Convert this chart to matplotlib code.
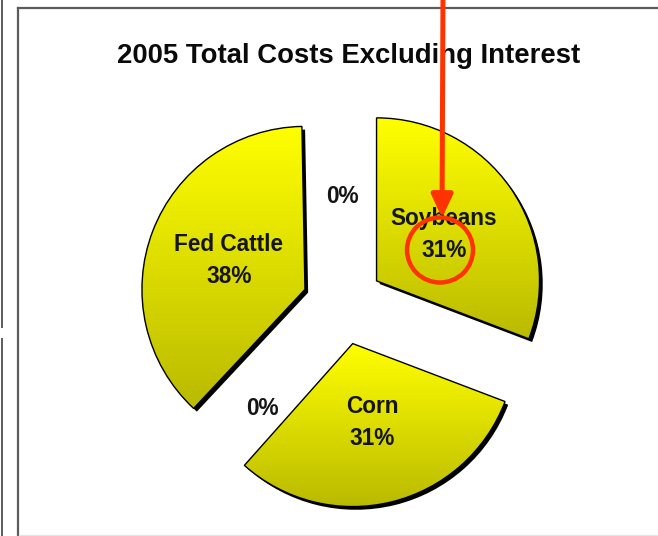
import numpy as np
import matplotlib
matplotlib.use('Agg')
from matplotlib import pyplot as plt
from matplotlib import patheffects as pe
from matplotlib.patches import Wedge, Ellipse
from matplotlib.lines import Line2D

# data
title = '2005 Total Costs Excluding Interest'
categories = ['Soybeans', 'Corn', '', 'Fed Cattle', '']
values = [31, 31, 0.4, 38, 0.3]

plt.rcParams['font.family'] = ['Liberation Sans', 'DejaVu Sans']

W, H = 658, 536
R = 163.0           # pie radius in pixels
cx, cy = 343, 304   # pie centre in pixels (from top)

fig = plt.figure(figsize=(W / 100, H / 100), dpi=100)
fig.patch.set_facecolor('white')

ax = fig.add_axes([0, 0, 1, 1])
wedges, _ = ax.pie(values, radius=1, startangle=90, counterclock=False,
                   explode=[0.25] * len(values),
                   wedgeprops=dict(edgecolor='none', facecolor='#ffff00'))
ax.set_aspect('auto')
ax.axis('off')

top = np.array([255, 255, 0]) / 255
bottom = np.array([186, 186, 0]) / 255
grad = np.linspace(0, 1, 256)[:, None, None]
grad_img = top * (1 - grad) + bottom * grad

total = sum(values)
pct = [f'{round(v / total * 100):.0f}%' for v in values]
label_dist = [0.5, 0.5, 0.56, 0.5, 0.41]
label_turn = [0, 0, 7, 0, 0]

for w, name, p, d, t in zip(wedges, categories, pct, label_dist, label_turn):
    th = np.deg2rad((w.theta1 + w.theta2) / 2 + t)
    x0, y0 = w.center
    if name:
        w.set_path_effects([pe.SimplePatchShadow(offset=(2.3, -2.3),
                                                 shadow_rgbFace='black', alpha=1),
                            pe.Normal()])
        ext = w.get_patch_transform().transform_path(w.get_path()).get_extents()
        im = ax.imshow(grad_img, extent=(ext.x0, ext.x1, ext.y0, ext.y1),
                       origin='upper', aspect='auto', zorder=2,
                       interpolation='bilinear')
        im.set_clip_path(w)
        ax.add_patch(Wedge(w.center, w.r, w.theta1, w.theta2, facecolor='none',
                           edgecolor='black', lw=1.0, zorder=3))
        txt = name + '\n' + p
    else:
        w.set_visible(False)
        txt = p
    ax.text(x0 + d * np.cos(th), y0 + d * np.sin(th), txt, ha='center',
            va='center', fontsize=16.3, fontweight='bold', color='#151515',
            linespacing=1.5, zorder=4)
ax.set_xlim(-cx / R, (W - cx) / R)
ax.set_ylim(-(H - cy) / R, cy / R)

# overlay in pixel coordinates: frame, title, annotation
ov = fig.add_axes([0, 0, 1, 1], zorder=5)
ov.set_facecolor('none')
ov.set_xlim(0, W)
ov.set_ylim(H, 0)
ov.axis('off')

frame = '#5c5c5c'
ov.add_line(Line2D([18, W], [8, 8], color=frame, lw=1.6))
ov.add_line(Line2D([18, 18], [8, H], color=frame, lw=1.6))
ov.add_line(Line2D([1.5, 1.5], [0, 327], color=frame, lw=1.4))
ov.add_line(Line2D([1.5, 1.5], [339, H], color=frame, lw=1.4))
ov.add_line(Line2D([19, W], [534.5, 534.5], color='#e6e6e6', lw=1))

ov.text(348.5, 63, title, ha='center', va='baseline', fontsize=19.8,
        fontweight='bold', color='#0a0a0a')

red = '#ff3300'
ov.annotate('', xy=(442, 218), xytext=(443, -5),
            arrowprops=dict(arrowstyle='-|>,head_length=1.4,head_width=0.65',
                            color=red, lw=3.6, shrinkA=0, shrinkB=0))
ov.add_patch(Ellipse((440, 250), 66, 65, facecolor='none', edgecolor=red, lw=3.2))

fig.savefig('out.png', dpi=100)
